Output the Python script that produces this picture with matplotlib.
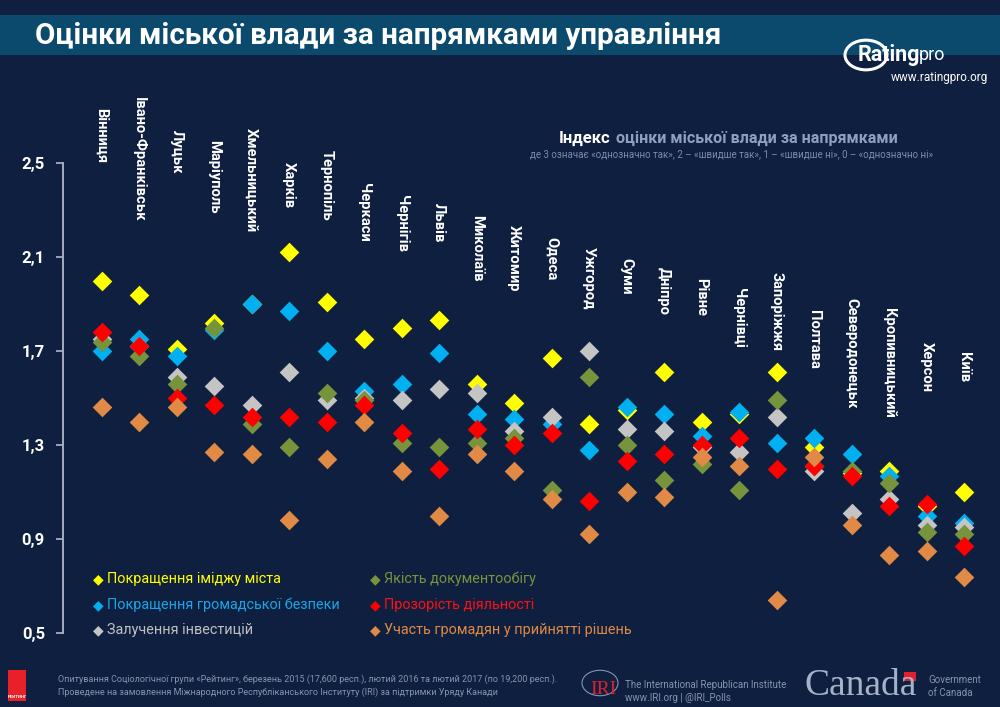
import numpy as np
import matplotlib
matplotlib.use("Agg")
import matplotlib.pyplot as plt
from matplotlib.patches import Rectangle, Circle

# ---- data ----
cities = ['Вінниця', 'Івано-Франківськ', 'Луцьк', 'Маріуполь', 'Хмельницький', 'Харків',
          'Тернопіль', 'Черкаси', 'Чернігів', 'Львів', 'Миколаїв', 'Житомир', 'Одеса',
          'Ужгород', 'Суми', 'Дніпро', 'Рівне', 'Чернівці', 'Запоріжжя', 'Полтава',
          'Северодонецьк', 'Кропивницький', 'Херсон', 'Київ']

image = [2.00, 1.94, 1.71, 1.82, 1.90, 2.12, 1.91, 1.75, 1.80, 1.83, 1.56, 1.48,
         1.67, 1.39, 1.45, 1.61, 1.40, 1.43, 1.61, 1.29, 1.18, 1.19, 1.04, 1.10]
safety = [1.70, 1.75, 1.68, 1.79, 1.90, 1.87, 1.70, 1.53, 1.56, 1.69, 1.43, 1.41,
          1.39, 1.28, 1.46, 1.43, 1.34, 1.44, 1.31, 1.33, 1.26, 1.17, 1.00, 0.97]
invest = [1.75, 1.72, 1.59, 1.55, 1.47, 1.61, 1.49, 1.50, 1.49, 1.54, 1.52, 1.36,
          1.42, 1.70, 1.37, 1.36, 1.29, 1.27, 1.42, 1.19, 1.01, 1.07, 0.96, 0.95]
docs = [1.74, 1.68, 1.56, 1.80, 1.39, 1.29, 1.52, 1.49, 1.31, 1.29, 1.31, 1.33,
        1.11, 1.59, 1.30, 1.15, 1.22, 1.11, 1.49, 1.21, 1.19, 1.14, 0.93, 0.92]
transp = [1.78, 1.72, 1.50, 1.47, 1.42, 1.42, 1.40, 1.47, 1.35, 1.20, 1.37, 1.30,
          1.35, 1.06, 1.23, 1.26, 1.30, 1.33, 1.20, 1.21, 1.17, 1.04, 1.05, 0.87]
partic = [1.46, 1.40, 1.46, 1.27, 1.26, 0.98, 1.24, 1.40, 1.19, 1.00, 1.26, 1.19,
          1.07, 0.92, 1.10, 1.08, 1.25, 1.21, 0.64, 1.25, 0.96, 0.83, 0.85, 0.74]

series_names = ['Покращення іміджу міста', 'Покращення громадської безпеки',
                'Залучення інвестицій', 'Якість документообігу',
                'Прозорість діяльності', 'Участь громадян у прийнятті рішень']
yticks = [0.5, 0.9, 1.3, 1.7, 2.1, 2.5]

# ---- style ----
BG = '#0f1f40'
colors = ['#ffff00', '#00b0f0', '#c4c4c4', '#77933c', '#ff0000', '#e08a45']
text_colors = ['#ffff00', '#1aa6e6', '#c0c0c0', '#77933c', '#ff1010', '#e08a45']
label_top = [2.734, 2.781, 2.64, 2.598, 2.649, 2.506, 2.555, 2.415, 2.364, 2.33,
             2.28, 2.236, 2.186, 2.144, 2.096, 2.059, 2.01, 1.968, 2.035, 1.874,
             1.925, 1.883, 1.74, 1.697]
NARROW = ['Roboto', 'DejaVu Sans']
SANS = ['Roboto', 'Liberation Sans', 'DejaVu Sans']

fig = plt.figure(figsize=(10, 7.07), dpi=100, facecolor=BG)
W, H = 1000, 707

def fx(px):
    return px / W

def fy(py):
    return 1 - py / H

# title band
fig.add_artist(Rectangle((0, fy(55)), 1, fy(15) - fy(55), transform=fig.transFigure,
                         facecolor='#0b4a6d', edgecolor='none'))
fig.text(fx(35), fy(36), 'Оцінки міської влади за напрямками управління', color='white',
         fontsize=21.3, fontweight='bold', family=NARROW, va='center', ha='left')

# ratingpro logo
fig.add_artist(Circle((fx(866), fy(55)), 0.021, transform=fig.transFigure, fill=False,
                      edgecolor='white', linewidth=2.2))
fig.text(fx(858), fy(55), 'Rating', color='white', fontsize=15.5, fontweight='bold',
         family=NARROW, va='center', ha='left')
fig.text(fx(919), fy(55), 'pro', color='white', fontsize=13, family=NARROW,
         va='center', ha='left')
fig.text(fx(988), fy(78), 'www.ratingpro.org', color='white', fontsize=8.5,
         family=NARROW, va='center', ha='right')

# subtitle block
fig.text(fx(611), fy(138), 'Індекс', color='white', fontsize=12, fontweight='bold',
         family=NARROW, va='center', ha='right')
fig.text(fx(616), fy(138), 'оцінки міської влади за напрямками', color='#8ea0c0',
         fontsize=11.6, fontweight='bold', family=NARROW, va='center', ha='left')
fig.text(fx(732), fy(154), 'де 3 означає «однозначно так», 2 – «швидше так», 1 – «швидше ні», 0 – «однозначно ні»',
         color='#7c8cab', fontsize=7.0, family=NARROW, va='center', ha='center')

# axes
ax = fig.add_axes([fx(63), fy(633), fx(990) - fx(63), fy(163) - fy(633)])
ax.set_facecolor('none')
x = np.arange(len(cities))
for vals, c in zip([image, safety, invest, docs, transp, partic], colors):
    ax.scatter(x, vals, marker='D', s=100, color=c, linewidths=0, zorder=3, clip_on=False)

ax.set_xlim(-1.03, 23.69)
ax.set_ylim(0.5, 2.5)
ax.set_yticks(yticks)
ax.set_yticklabels([f'{t:.1f}'.replace('.', ',') for t in yticks], family=NARROW,
                   fontweight='bold', fontsize=12, color='white')
ax.tick_params(axis='y', length=5, width=1.2, color='#b0b8c8', pad=8)
ax.set_xticks([])
for s in ['top', 'right', 'bottom']:
    ax.spines[s].set_visible(False)
ax.spines['left'].set_color('#b0b8c8')
ax.spines['left'].set_linewidth(1.3)

for i, name in enumerate(cities):
    ax.text(x[i], label_top[i], name, rotation=-90, color='white', fontsize=10.6,
            fontweight='bold', family=NARROW, ha='center', va='top', clip_on=False)

# legend
leg_cols = [(98, 0), (375, 3)]
leg_rows = [579, 605, 630]
for lx, start in leg_cols:
    for r, py in enumerate(leg_rows):
        k = start + r
        fig.text(fx(lx), fy(py), '◆', color=colors[k], fontsize=10, family='DejaVu Sans',
                 va='center', ha='center')
        fig.text(fx(lx + 9), fy(py), series_names[k], color=text_colors[k], fontsize=10.4,
                 family=NARROW, va='center', ha='left')

# footer
fig.add_artist(Rectangle((fx(8), fy(701)), fx(18), fy(670) - fy(701), transform=fig.transFigure,
                         facecolor='#e8202a', edgecolor='none'))
fig.text(fx(17), fy(697), 'РЕЙТИНГ', color='white', fontsize=3.2, fontweight='bold',
         family=SANS, ha='center', va='center')
fig.text(fx(58), fy(679), 'Опитування Соціологічної групи «Рейтинг», березень 2015 (17,600 респ.), лютий 2016 та лютий 2017 (по 19,200 респ.).',
         color='#8794ad', fontsize=6.5, family=NARROW, va='center', ha='left')
fig.text(fx(58), fy(692), 'Проведене на замовлення Міжнародного Республіканського Інституту (IRI) за підтримки Уряду Канади',
         color='#8794ad', fontsize=6.5, family=NARROW, va='center', ha='left')

fig.add_artist(Circle((fx(600), fy(683)), 0.018, transform=fig.transFigure, fill=False,
                      edgecolor='#8794ad', linewidth=0.8))
fig.text(fx(603), fy(690), 'IRI', color='#e02030', fontsize=14, family='Liberation Serif',
         va='center', ha='center')
fig.text(fx(625), fy(685), 'The International Republican Institute', color='#8794ad',
         fontsize=7.0, family=NARROW, va='center', ha='left')
fig.text(fx(625), fy(698), 'www.IRI.org | @IRI_Polls', color='#8794ad',
         fontsize=7.0, family=NARROW, va='center', ha='left')

fig.text(fx(805), fy(686), 'Canada', color='#a6b2c8', fontsize=27, family='Liberation Serif',
         va='center', ha='left')
fig.add_artist(Rectangle((fx(904), fy(681)), fx(12), fy(672) - fy(681), transform=fig.transFigure,
                         facecolor='#e02030', edgecolor='none'))
fig.text(fx(928), fy(680), 'Government', color='#8794ad', fontsize=7.0, family=NARROW,
         va='center', ha='left')
fig.text(fx(928), fy(693), 'of Canada', color='#8794ad', fontsize=7.0, family=NARROW,
         va='center', ha='left')

fig.savefig('out.png', dpi=100, facecolor=BG)
